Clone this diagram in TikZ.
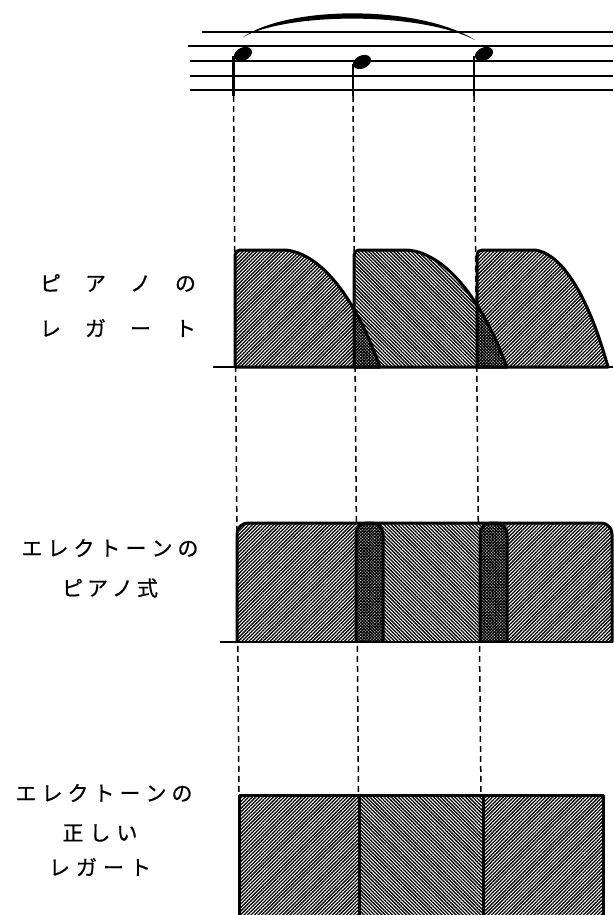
\documentclass[tikz,border=0pt]{standalone}
\usepackage{fontspec}
\newfontfamily\jpfont[FakeBold=0.6]{Noto Sans CJK JP}
\usetikzlibrary{patterns.meta,shapes.geometric}
\newcommand\pianopath[3]{(#1,367) -- (#1,261) .. controls (#1,250) .. (#1+11,250) -- (#2,250) .. controls ({#2+0.22*(#3-#2)},250) and ({#2+0.64*(#3-#2)},270) .. (#3,367) -- cycle}
\newcommand\organpath[2]{(#1,642) -- (#1,523) -- (#2,523) -- (#2,642)}
\tikzset{
  staffline/.style={line width=1.6pt},
  notehead/.style={ellipse, fill=black, inner sep=0pt, minimum width=19pt, minimum height=13pt, rotate=25},
  stemline/.style={line width=2.2pt},
  guide/.style={line width=1.5pt, dash pattern=on 6pt off 4pt},
  outline/.style={line width=3pt, line join=round},
  hatchA/.style={pattern={Lines[angle=45,distance=2.5pt,line width=1.3pt]}},
  hatchB/.style={pattern={Lines[angle=-45,distance=2.5pt,line width=1.3pt]}},
  darkx/.style={pattern={Hatch[angle=45,distance=2.2pt,line width=1.2pt]}},
  organ/.style={rounded corners=11pt},
  label/.style={font={\jpfont\fontsize{21pt}{21pt}\selectfont}, inner sep=0pt}
}
\begin{document}
\begin{tikzpicture}[x=1pt,y=-1pt]
\useasboundingbox (0,0) rectangle (613,915);
% guide coordinates
\coordinate (d1t) at (233.5,96); \coordinate (d1b) at (239,795);
\coordinate (d2t) at (353,96);   \coordinate (d2b) at (358.5,795);
\coordinate (d3t) at (474,96);   \coordinate (d3b) at (481,795);
\draw[guide] (d1t) -- (d1b);
\draw[guide] (d2t) -- (d2b);
\draw[guide] (d3t) -- (d3b);
% staff
\coordinate (s1a) at (202,32); \coordinate (s1b) at (613,32);
\coordinate (s2a) at (188,46); \coordinate (s2b) at (613,46);
\coordinate (s3a) at (190,61); \coordinate (s3b) at (613,61);
\coordinate (s4a) at (190,76); \coordinate (s4b) at (613,76);
\coordinate (s5a) at (190,90); \coordinate (s5b) at (613,90);
\draw[staffline] (s1a) -- (s1b);
\draw[staffline, line width=2.2pt] (s2a) -- (s2b);
\draw[staffline] (s3a) -- (s3b);
\draw[staffline] (s4a) -- (s4b);
\draw[staffline] (s5a) -- (s5b);
% notes
\node[notehead] (n1) at (243,54) {};
\node[notehead] (n2) at (362,62) {};
\node[notehead] (n3) at (484,54) {};
\draw[stemline] (233.5,56) -- (d1t);
\draw[stemline] (353,64) -- (d2t);
\draw[stemline] (474,56) -- (d3t);
% slur
\fill (243,37) .. controls (290,5) and (420,5) .. (475,40) .. controls (420,12) and (290,12) .. (243,37) -- cycle;
% piano legato
\fill[white] \pianopath{235}{283}{380};
\fill[hatchA] \pianopath{235}{283}{380};
\fill[white] \pianopath{354}{405}{507};
\fill[hatchB] \pianopath{354}{405}{507};
\fill[white] \pianopath{477}{533}{608};
\fill[hatchA] \pianopath{477}{533}{608};
\begin{scope}
\clip \pianopath{235}{283}{380};
\fill[white] \pianopath{354}{405}{507};
\fill[darkx] \pianopath{354}{405}{507};
\end{scope}
\begin{scope}
\clip \pianopath{354}{405}{507};
\fill[white] \pianopath{477}{533}{608};
\fill[darkx] \pianopath{477}{533}{608};
\end{scope}
\draw[outline] \pianopath{235}{283}{380};
\draw[outline] \pianopath{354}{405}{507};
\draw[outline] \pianopath{477}{533}{608};
\coordinate (b1a) at (213,367); \coordinate (b1b) at (613,367);
\draw[line width=2pt] (b1a) -- (b1b);
% electone piano style
\fill[white,organ] \organpath{237}{383};
\fill[hatchA,organ] \organpath{237}{383};
\fill[white,organ] \organpath{356}{507};
\fill[hatchB,organ] \organpath{356}{507};
\fill[white,organ] \organpath{480}{612};
\fill[hatchA,organ] \organpath{480}{612};
\begin{scope}
\clip[organ] \organpath{237}{383};
\fill[white,organ] \organpath{356}{507};
\fill[darkx,organ] \organpath{356}{507};
\end{scope}
\begin{scope}
\clip[organ] \organpath{356}{507};
\fill[white,organ] \organpath{480}{612};
\fill[darkx,organ] \organpath{480}{612};
\end{scope}
\draw[outline,organ] \organpath{237}{383};
\draw[outline,organ] \organpath{356}{507};
\draw[outline,organ] \organpath{480}{612};
\coordinate (b2a) at (220,642); \coordinate (b2b) at (613,642);
\draw[line width=2pt] (b2a) -- (b2b);
% correct legato
\fill[white] (239,795) rectangle (359,920);
\fill[hatchA] (239,795) rectangle (359,920);
\fill[white] (359,795) rectangle (483,920);
\fill[hatchB] (359,795) rectangle (483,920);
\fill[white] (483,795) rectangle (603,920);
\fill[hatchA] (483,795) rectangle (603,920);
\draw[outline] (239,795) rectangle (359,920);
\draw[outline] (359,795) rectangle (483,920);
\draw[outline] (483,795) rectangle (603,920);
% labels
\node[label] (t1a) at (118,283) {ピ\hspace{24pt}ア\hspace{24pt}ノ\hspace{24pt}の};
\node[label] (t1b) at (118,328) {レ\hspace{24pt}ガ\hspace{24pt}ー\hspace{24pt}ト};
\node[label] (t2a) at (110,548) {エ\hspace{5pt}レ\hspace{5pt}ク\hspace{5pt}ト\hspace{5pt}ー\hspace{5pt}ン\hspace{5pt}の};
\node[label] (t2b) at (110,588) {ピ\hspace{4pt}ア\hspace{4pt}ノ\hspace{4pt}式};
\node[label] (t3a) at (104,793) {エ\hspace{5pt}レ\hspace{5pt}ク\hspace{5pt}ト\hspace{5pt}ー\hspace{5pt}ン\hspace{5pt}の};
\node[label] (t3b) at (100,833) {正\hspace{6pt}し\hspace{6pt}い};
\node[label] (t3c) at (100,867) {レ\hspace{6pt}ガ\hspace{6pt}ー\hspace{6pt}ト};
\end{tikzpicture}
\end{document}
